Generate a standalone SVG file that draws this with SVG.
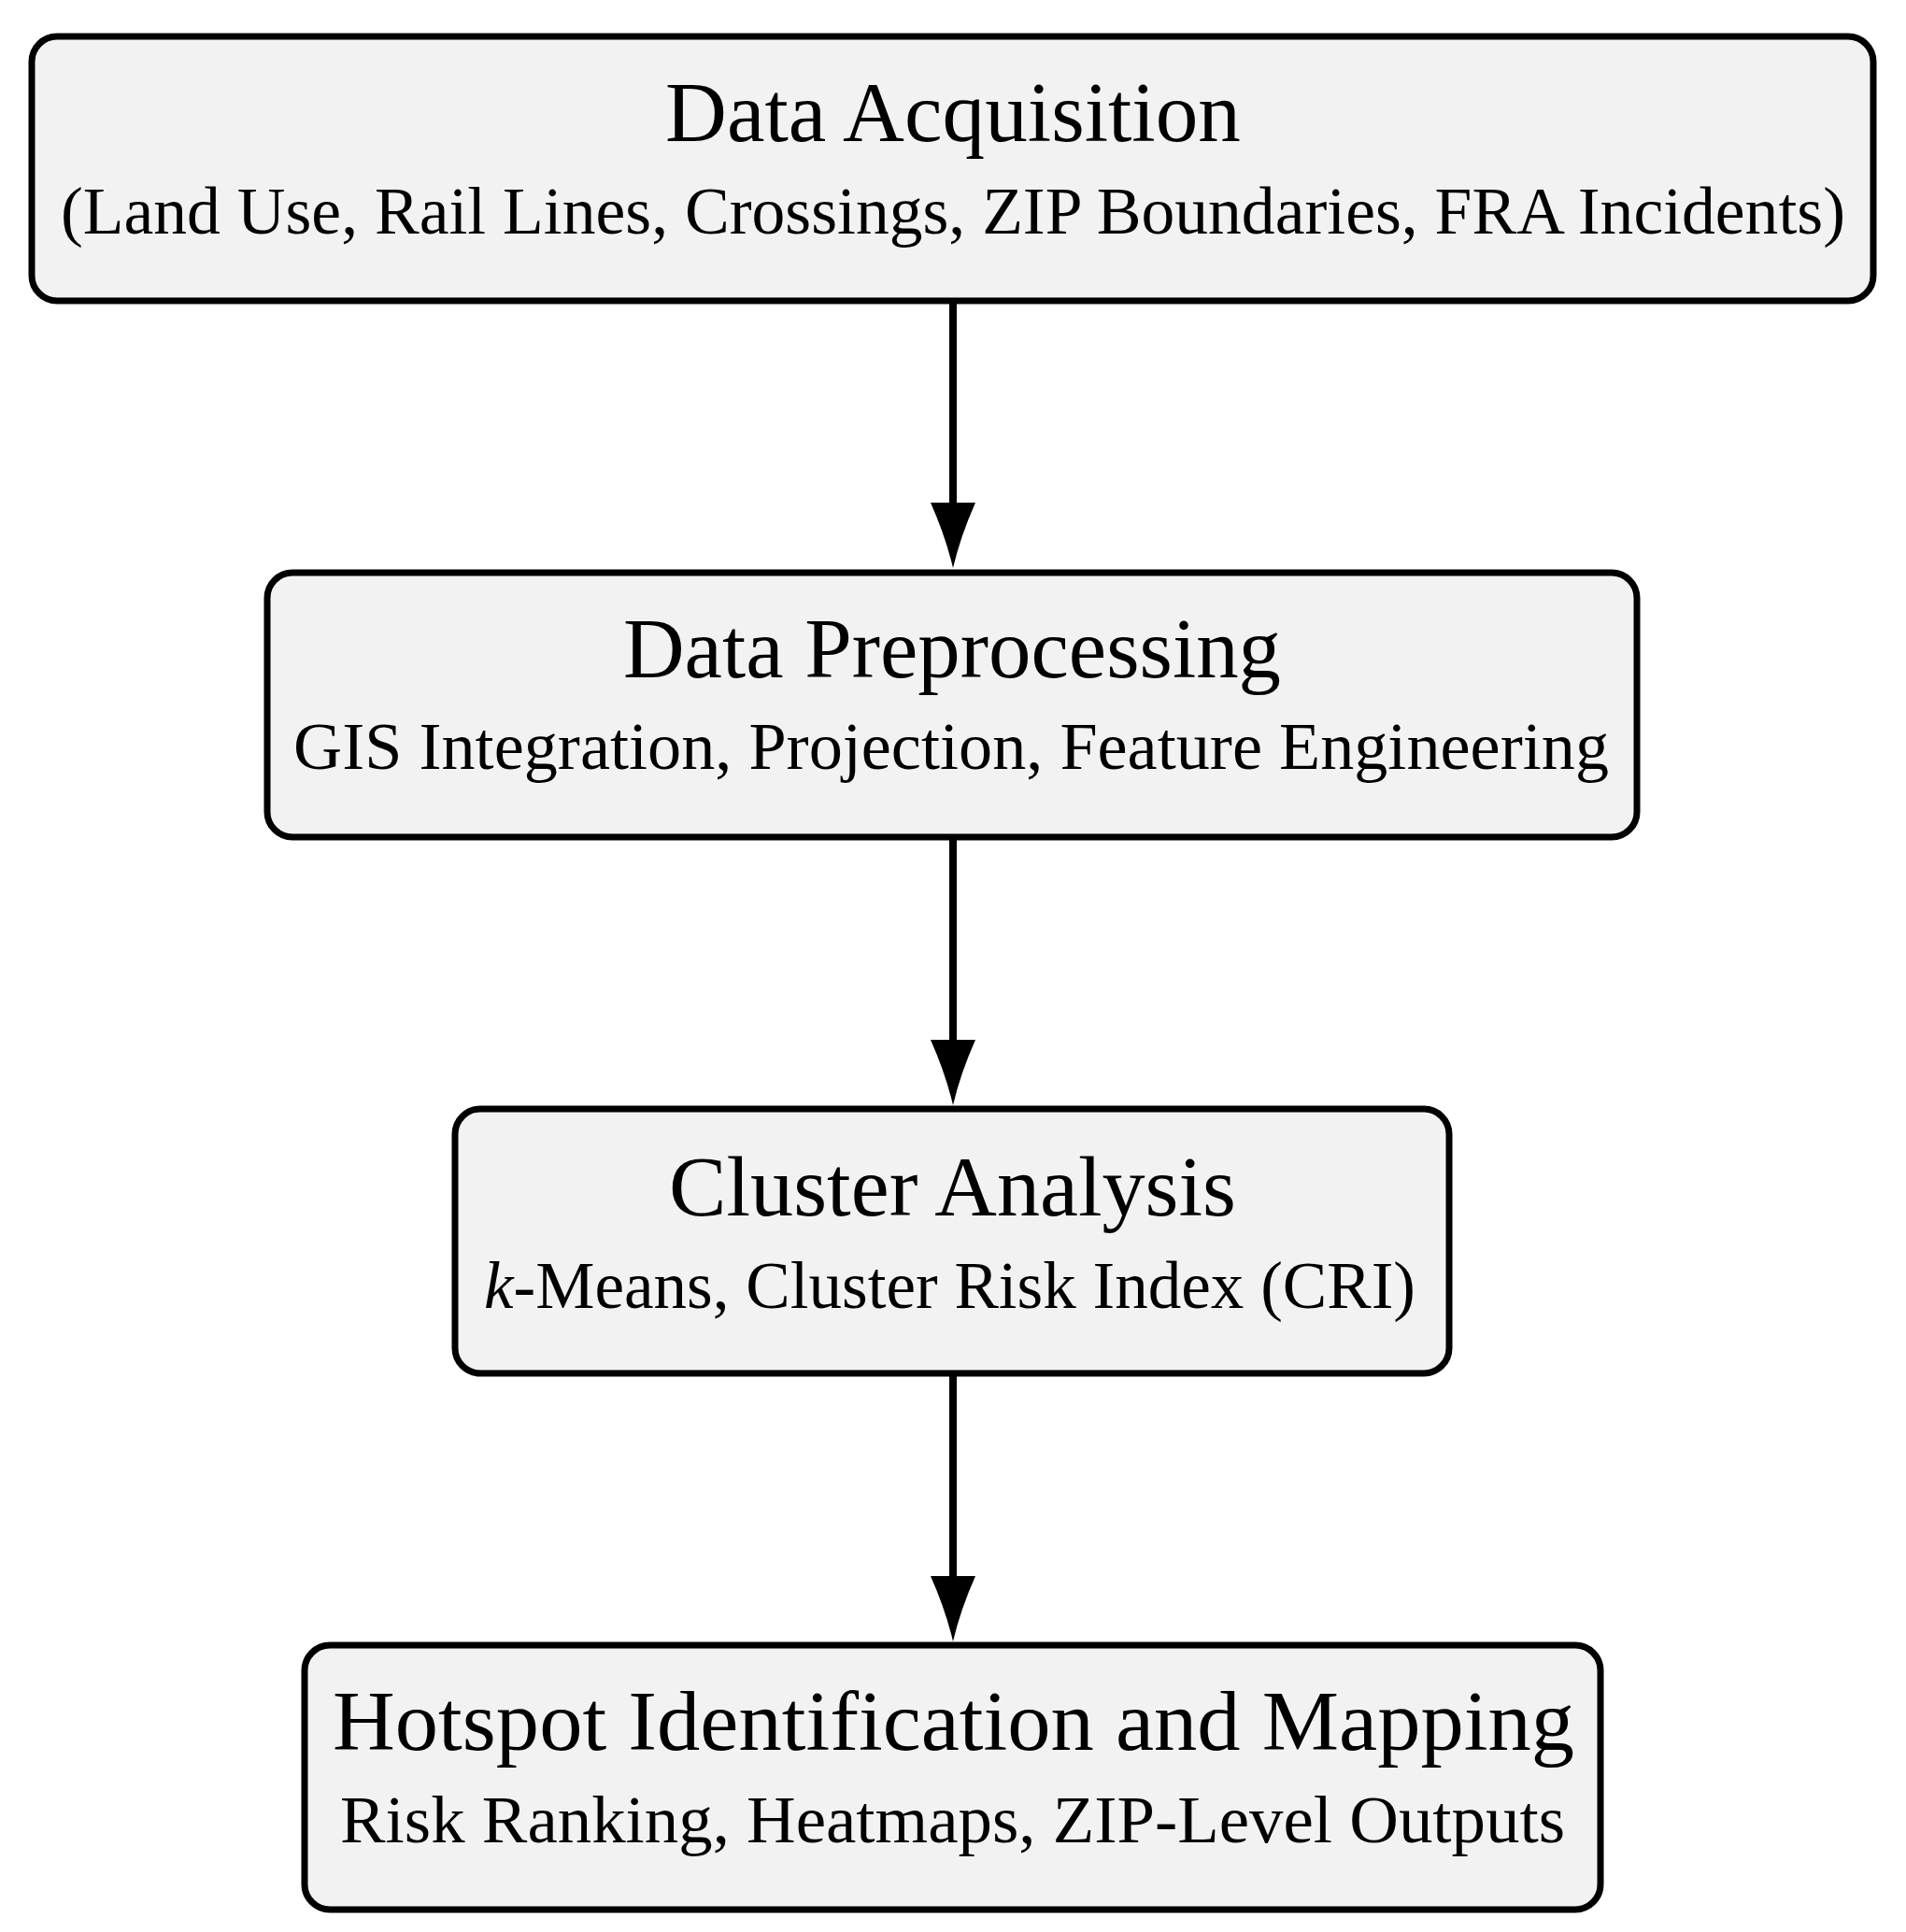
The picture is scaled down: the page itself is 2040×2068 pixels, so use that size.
<svg xmlns="http://www.w3.org/2000/svg" width="2040" height="2068" viewBox="0 0 2040 2068">
<style>
.box{fill:#f2f2f2;stroke:#000;stroke-width:7}
.title{font-family:"Liberation Serif","Times New Roman",serif;font-size:90px;fill:#000}
.sub{font-family:"Liberation Serif","Times New Roman",serif;font-size:72px;fill:#000}
.conn{stroke:#000;stroke-width:8;fill:none}
</style>
<defs>
<marker id="ah" markerUnits="userSpaceOnUse" markerWidth="72" markerHeight="50" viewBox="0 0 72 50" refX="0" refY="25" orient="auto">
<path d="M0,1 Q36,17 70,25 Q36,33 0,49 Z" fill="#000"/>
</marker>
</defs>
<rect width="2040" height="2068" fill="#fff"/>
<g id="node-acquisition">
<rect class="box" x="34" y="39" width="1971" height="283" rx="27" ry="27"/>
<text class="title" x="712" y="151" textLength="616" lengthAdjust="spacingAndGlyphs">Data Acquisition</text>
<text class="sub" x="65" y="250" textLength="1910" lengthAdjust="spacingAndGlyphs">(Land Use, Rail Lines, Crossings, ZIP Boundaries, FRA Incidents)</text>
</g>
<g id="node-preprocessing">
<rect class="box" x="286" y="613" width="1466" height="283" rx="27" ry="27"/>
<text class="title" x="667" y="725" textLength="704" lengthAdjust="spacingAndGlyphs">Data Preprocessing</text>
<text class="sub" x="314" y="823" textLength="1408" lengthAdjust="spacingAndGlyphs">GIS Integration, Projection, Feature Engineering</text>
</g>
<g id="node-cluster">
<rect class="box" x="487" y="1187" width="1064" height="283" rx="27" ry="27"/>
<text class="title" x="716" y="1301" textLength="607" lengthAdjust="spacingAndGlyphs">Cluster Analysis</text>
<text class="sub" x="518" y="1400" textLength="997" lengthAdjust="spacingAndGlyphs"><tspan font-style="italic">k</tspan>-Means, Cluster Risk Index (CRI)</text>
</g>
<g id="node-hotspot">
<rect class="box" x="326" y="1761" width="1387" height="283" rx="27" ry="27"/>
<text class="title" x="356" y="1873" textLength="1329" lengthAdjust="spacingAndGlyphs">Hotspot Identification and Mapping</text>
<text class="sub" x="364" y="1972" textLength="1311" lengthAdjust="spacingAndGlyphs">Risk Ranking, Heatmaps, ZIP-Level Outputs</text>
</g>
<g id="connectors">
<line class="conn" x1="1020" y1="325" x2="1020" y2="538" marker-end="url(#ah)"/>
<line class="conn" x1="1020" y1="899" x2="1020" y2="1113" marker-end="url(#ah)"/>
<line class="conn" x1="1020" y1="1473" x2="1020" y2="1687" marker-end="url(#ah)"/>
</g>
</svg>
